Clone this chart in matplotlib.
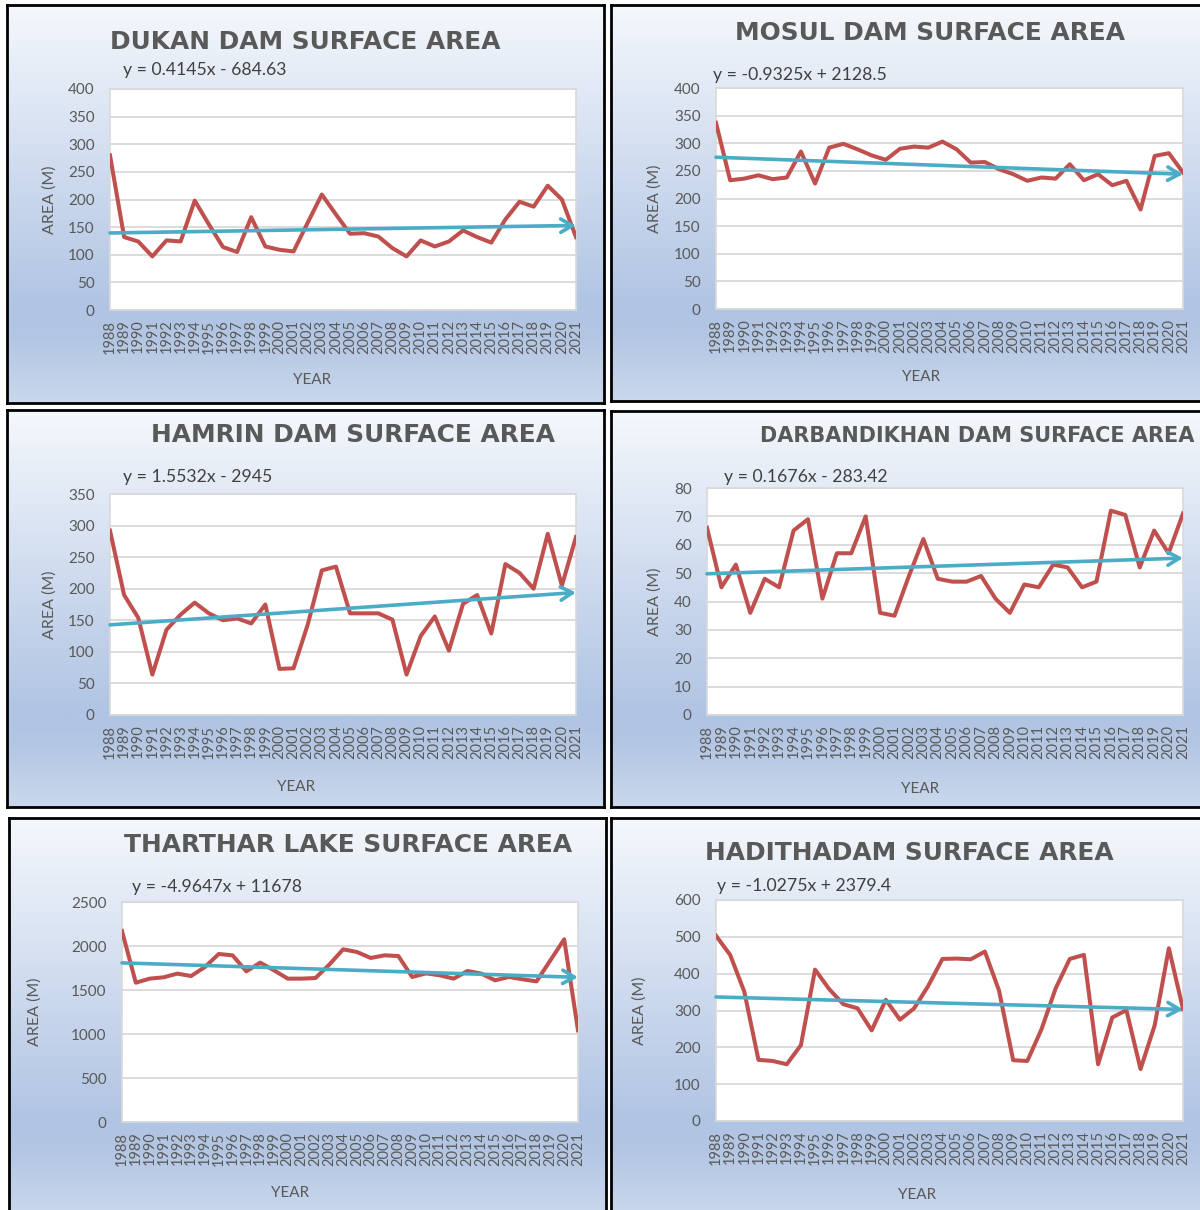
import numpy as np
import matplotlib
matplotlib.use("Agg")
import matplotlib.pyplot as plt
from matplotlib.colors import LinearSegmentedColormap

W, H = 1200, 1210

years = list(range(1988, 2022))
year_labels = [str(y) for y in years]

# surface area per year for each reservoir
dukan = [280, 132, 124, 97, 126, 124, 198, 155, 114, 105, 168, 115, 109, 106, 158, 209, 173,
         138, 139, 133, 112, 97, 126, 115, 124, 144, 132, 122, 164, 196, 187, 225, 200, 132]
mosul = [337, 233, 236, 242, 235, 238, 285, 227, 292, 299, 289, 278, 270, 290, 294, 292, 303,
         289, 265, 266, 253, 244, 232, 238, 236, 262, 233, 244, 224, 232, 180, 277, 282, 247]
hamrin = [292, 190, 154, 64, 135, 159, 178, 161, 150, 153, 145, 175, 73, 74, 143, 229, 235,
          161, 161, 161, 151, 64, 125, 156, 102, 176, 190, 129, 239, 225, 200, 287, 205, 282]
darbandikhan = [66, 45, 53, 36, 48, 45, 65, 69, 41, 57, 57, 70, 36, 35, 49, 62, 48,
                47, 47, 49, 41, 36, 46, 45, 53, 52, 45, 47, 72, 70.5, 52, 65, 57, 71]
tharthar = [2170, 1583, 1629, 1644, 1686, 1659, 1761, 1909, 1894, 1712, 1811, 1723, 1629, 1629,
            1636, 1788, 1962, 1932, 1864, 1894, 1886, 1648, 1689, 1667, 1629, 1716, 1686, 1610,
            1648, 1621, 1598, 1837, 2076, 1042]
haditha = [503, 451, 351, 166, 163, 154, 206, 411, 358, 317, 306, 246, 329, 275, 306, 367, 440,
           441, 439, 460, 354, 165, 163, 249, 360, 440, 451, 154, 281, 301, 141, 260, 469, 304]

titles = ["DUKAN DAM SURFACE AREA", "MOSUL DAM SURFACE AREA", "HAMRIN DAM SURFACE AREA",
          "DARBANDIKHAN DAM SURFACE AREA", "THARTHAR LAKE SURFACE AREA", "HADITHADAM SURFACE AREA"]
series = [dukan, mosul, hamrin, darbandikhan, tharthar, haditha]
# linear trend y = slope * year + intercept
slopes = [0.4145, -0.9325, 1.5532, 0.1676, -4.9647, -1.0275]
intercepts = [-684.63, 2128.5, -2945, -283.42, 11678, 2379.4]
y_max = [400, 400, 350, 80, 2500, 600]
y_step = [50, 50, 50, 10, 500, 100]

# pixel layout: panel box, plot box, title (x, y, size), equation (x, y), ylabel x, xlabel (x, y)
layout = [
    dict(box=(7, 5, 604, 403), plot=(110, 89, 576, 310), title=(305, 42, 17.9), eq=(123, 70), yl=50, xl=(312, 380)),
    dict(box=(611, 5, 1206, 401), plot=(716, 88, 1183, 309), title=(930, 33, 17.9), eq=(713, 75), yl=655, xl=(921, 377)),
    dict(box=(7, 410, 604, 807), plot=(110, 494, 576, 715), title=(353, 435, 17.9), eq=(123, 477), yl=50, xl=(296, 787)),
    dict(box=(611, 411, 1206, 807), plot=(707, 488, 1183, 715), title=(977, 436, 15), eq=(724, 477), yl=655, xl=(920, 789)),
    dict(box=(9, 818, 606, 1216), plot=(122, 902, 578, 1122), title=(348, 845, 17.9), eq=(132, 887), yl=35, xl=(290, 1193)),
    dict(box=(611, 818, 1206, 1216), plot=(716, 900, 1183, 1121), title=(909, 853, 17.9), eq=(717, 886), yl=640, xl=(917, 1195)),
]

GRAY = "#595959"
bg = LinearSegmentedColormap.from_list(
    "panel_bg", [(0, "#f5f8fc"), (0.76, "#b0c4e3"), (0.84, "#b3c6e3"), (1, "#cad8ec")])
grad = np.linspace(0, 1, 256).reshape(-1, 1)


def fx(x):
    return x / W


def fy(y):
    return 1 - y / H


def rect(x0, y0, x1, y1):
    return [fx(x0), fy(y1), (x1 - x0) / W, (y1 - y0) / H]


fig = plt.figure(figsize=(W / 100, H / 100), dpi=100)
fig.patch.set_facecolor("white")

for i in range(6):
    lay = layout[i]

    # gradient panel with black frame
    bax = fig.add_axes(rect(*lay["box"]))
    bax.imshow(grad, cmap=bg, aspect="auto", extent=(0, 1, 0, 1), origin="upper")
    bax.set_xticks([])
    bax.set_yticks([])
    for s in bax.spines.values():
        s.set_color("black")
        s.set_linewidth(2)

    ax = fig.add_axes(rect(*lay["plot"]))
    ax.set_facecolor("white")
    ax.plot(years, series[i], color="#C0504D", lw=2.9, zorder=3)

    m, b = slopes[i], intercepts[i]
    ax.annotate("", xy=(2021, m * 2021 + b), xytext=(1988, m * 1988 + b),
                arrowprops=dict(arrowstyle="->,head_length=0.7,head_width=0.4", color="#4BACC6",
                                lw=2.6, shrinkA=0, shrinkB=0, mutation_scale=12),
                annotation_clip=False, zorder=4)

    ax.set_xlim(1988, 2021)
    ax.set_ylim(0, y_max[i])
    ax.set_yticks(np.arange(0, y_max[i] + y_step[i], y_step[i]))
    ax.set_xticks(years)
    ax.set_xticklabels(year_labels, rotation=90, fontsize=10.5, color=GRAY, family="Lato")
    for lab in ax.get_yticklabels():
        lab.set_fontsize(11)
        lab.set_color(GRAY)
        lab.set_family("Lato")
    ax.tick_params(axis="y", length=0, pad=11)
    ax.tick_params(axis="x", length=0, pad=7)
    ax.grid(axis="y", color="#d9d9d9", lw=1.3)
    ax.set_axisbelow(True)
    for s in ax.spines.values():
        s.set_color("#d9d9d9")
        s.set_linewidth(1.2)

    tx, ty, ts = lay["title"]
    fig.text(fx(tx), fy(ty), titles[i], ha="center", va="center", fontsize=ts,
             weight="bold", color=GRAY, family="DejaVu Sans")

    sign = "-" if b < 0 else "+"
    eq = f"y = {m:g}x {sign} {abs(b):g}"
    fig.text(fx(lay["eq"][0]), fy(lay["eq"][1]), eq, ha="left", va="center",
             fontsize=12.7, color="#404040", family="Lato")

    px0, py0, px1, py1 = lay["plot"]
    fig.text(fx(lay["yl"]), fy((py0 + py1) / 2), "AREA (M)", rotation=90, ha="center",
             va="center", fontsize=11.5, color=GRAY, family="Lato")
    fig.text(fx(lay["xl"][0]), fy(lay["xl"][1]), "YEAR", ha="center", va="center",
             fontsize=11, color=GRAY, family="Lato")

fig.savefig("out.png", dpi=100)
